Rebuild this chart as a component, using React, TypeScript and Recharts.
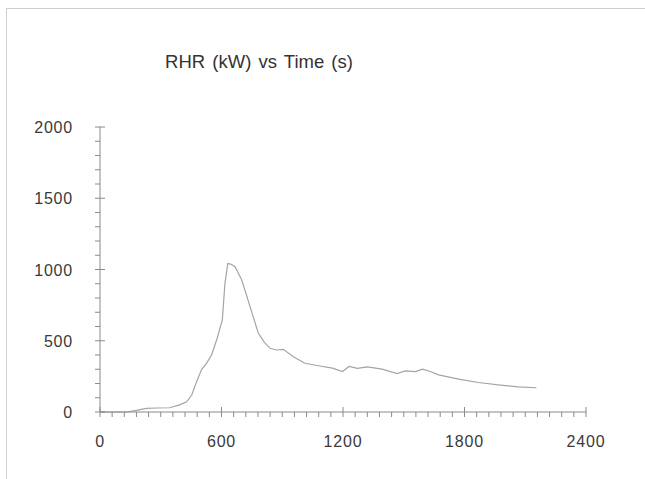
import React from 'react';
import { LineChart, Line, XAxis, YAxis } from 'recharts';

// time (s) and rate of heat release (kW)
const timeS = [
  0, 60, 130, 180, 230, 280, 344, 393, 428, 453, 477, 502, 525, 551, 576, 604, 617, 631, 645, 667,
  700, 741, 782, 812, 840, 872, 905, 955, 1012, 1086, 1148, 1197, 1230, 1271, 1320, 1393, 1467,
  1508, 1557, 1594, 1631, 1672, 1771, 1869, 1967, 2066, 2155,
];
const rhrKw = [
  0, 0, 0, 12, 26, 28, 30, 50, 72, 119, 213, 300, 340, 400, 505, 646, 903, 1043, 1038, 1020,
  926, 739, 552, 489, 447, 435, 440, 388, 342, 323, 308, 284, 320, 306, 317, 301, 270,
  289, 284, 301, 284, 261, 231, 207, 190, 176, 170,
];

const xTicks = Array.from({ length: 41 }, (_, i) => i * 60);
const yTicks = Array.from({ length: 21 }, (_, i) => i * 100);

const data = timeS.map((t, i) => ({ t, rhr: rhrKw[i] }));

const FONT = '"Liberation Sans", Arial, sans-serif';
const AXIS = '#8a8a8a';
const LABEL = '#3a3a3a';

const XTick = (props: any) => {
  const { x, y, payload } = props;
  const major = payload.value % 600 === 0;
  return (
    <g>
      <line x1={x} x2={x} y1={major ? y - 5 : y} y2={y + 5} stroke={AXIS} strokeWidth={1} />
      {major && (
        <text x={x} y={y + 35} textAnchor="middle" fontSize={16} fontFamily={FONT} fill={LABEL} letterSpacing={0.8}>
          {payload.value}
        </text>
      )}
    </g>
  );
};

const YTick = (props: any) => {
  const { x, y, payload } = props;
  const major = payload.value % 500 === 0;
  return (
    <g>
      <line x1={x - 5} x2={major ? x + 5 : x} y1={y} y2={y} stroke={AXIS} strokeWidth={1} />
      {major && (
        <text x={x - 27} y={y + 6} textAnchor="end" fontSize={16} fontFamily={FONT} fill={LABEL} letterSpacing={0.8}>
          {payload.value}
        </text>
      )}
    </g>
  );
};

export default function App() {
  return (
    <div
      style={{
        position: 'fixed',
        top: 0,
        left: 0,
        width: 645,
        height: 479,
        overflow: 'hidden',
        background: '#fff',
        fontFamily: FONT,
      }}
    >
      <div
        style={{
          position: 'absolute',
          left: 6,
          top: 8,
          width: 700,
          height: 600,
          borderTop: '1px solid #cfcfcf',
          borderLeft: '1px solid #cfcfcf',
        }}
      />
      <div
        style={{
          position: 'absolute',
          left: 0,
          top: 51,
          width: 518,
          textAlign: 'center',
          fontSize: 18.5,
          color: '#333',
          wordSpacing: 2,
        }}
      >
        RHR (kW) vs Time (s)
      </div>
      <div style={{ position: 'absolute', left: 0, top: 0 }}>
        <LineChart width={645} height={479} data={data} margin={{ top: 127, right: 59, bottom: 27, left: 0 }}>
          <XAxis
            dataKey="t"
            type="number"
            domain={[0, 2400]}
            ticks={xTicks}
            interval={0}
            height={40}
            tickSize={0}
            tickMargin={0}
            tickLine={false}
            axisLine={{ stroke: AXIS }}
            tick={<XTick />}
          />
          <YAxis
            type="number"
            domain={[0, 2000]}
            ticks={yTicks}
            interval={0}
            width={100}
            tickSize={0}
            tickMargin={0}
            tickLine={false}
            axisLine={{ stroke: AXIS }}
            tick={<YTick />}
          />
          <Line
            type="linear"
            dataKey="rhr"
            stroke="#a4a4a4"
            strokeWidth={1.2}
            dot={false}
            isAnimationActive={false}
          />
        </LineChart>
      </div>
    </div>
  );
}
